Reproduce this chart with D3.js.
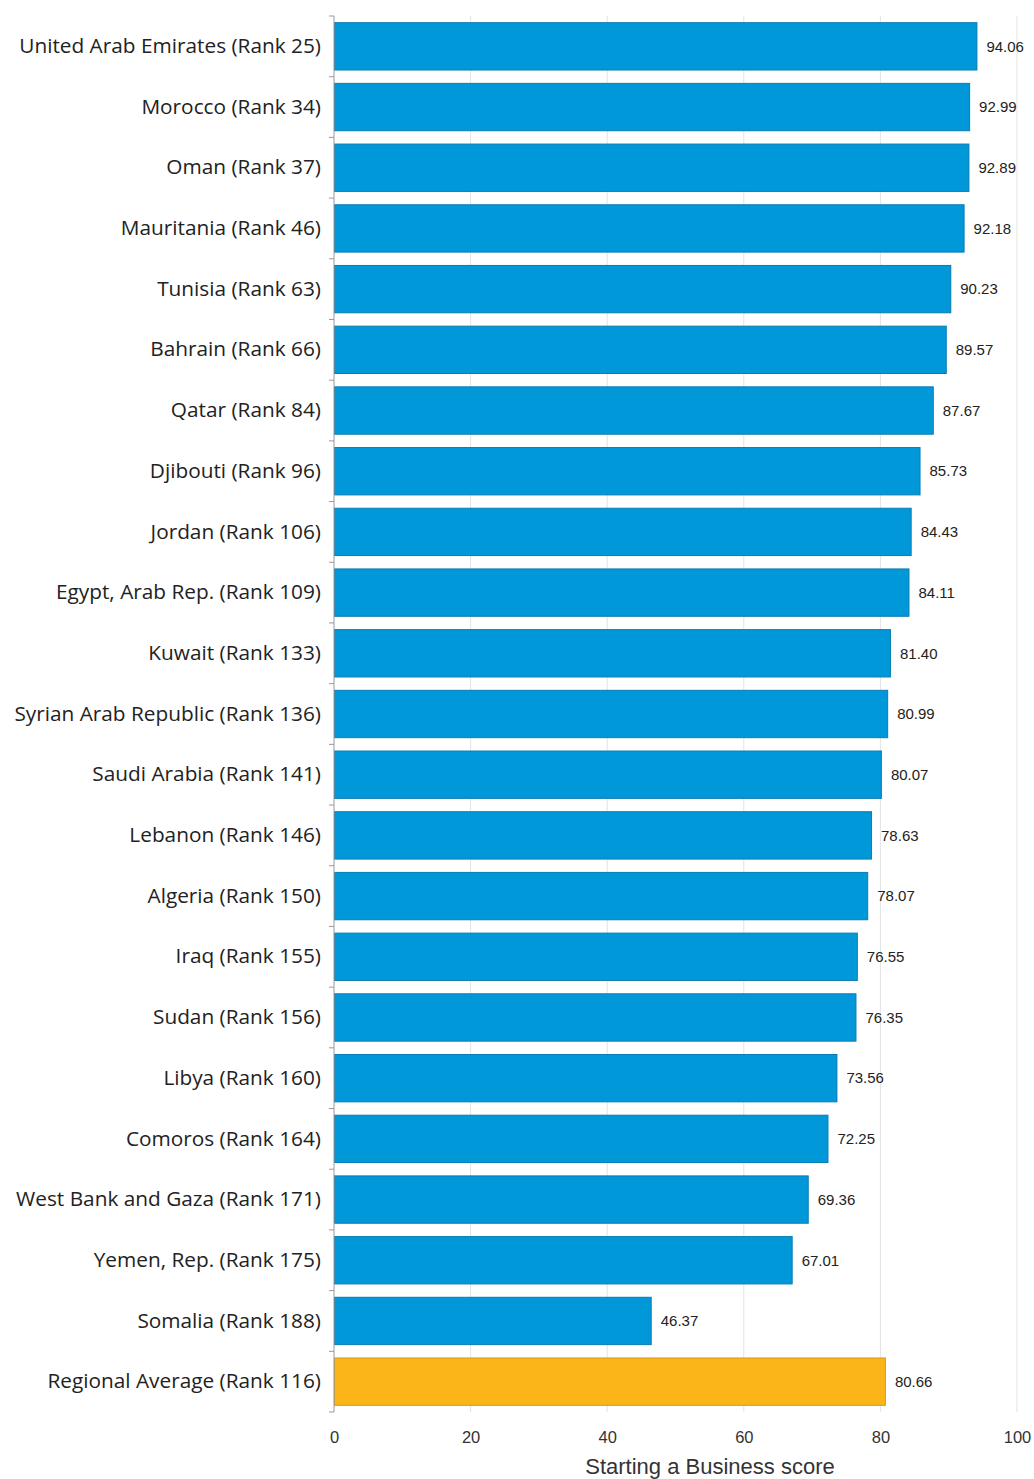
<!DOCTYPE html>
<html>
<head>
<meta charset="utf-8">
<script src="https://cdn.jsdelivr.net/npm/d3@7"></script>
<style>
  html, body { margin: 0; padding: 0; background: #fff; }
  svg { display: block; }
</style>
</head>
<body>
<svg id="chart" width="1034" height="1479"></svg>
<script>
// Starting a Business scores by economy, with the regional average last
const categories = [
  "United Arab Emirates (Rank 25)",
  "Morocco (Rank 34)",
  "Oman (Rank 37)",
  "Mauritania (Rank 46)",
  "Tunisia (Rank 63)",
  "Bahrain (Rank 66)",
  "Qatar (Rank 84)",
  "Djibouti (Rank 96)",
  "Jordan (Rank 106)",
  "Egypt, Arab Rep. (Rank 109)",
  "Kuwait (Rank 133)",
  "Syrian Arab Republic (Rank 136)",
  "Saudi Arabia (Rank 141)",
  "Lebanon (Rank 146)",
  "Algeria (Rank 150)",
  "Iraq (Rank 155)",
  "Sudan (Rank 156)",
  "Libya (Rank 160)",
  "Comoros (Rank 164)",
  "West Bank and Gaza (Rank 171)",
  "Yemen, Rep. (Rank 175)",
  "Somalia (Rank 188)",
  "Regional Average (Rank 116)"
];
const scores = [
  94.06, 92.99, 92.89, 92.18, 90.23, 89.57, 87.67, 85.73, 84.43, 84.11,
  81.40, 80.99, 80.07, 78.63, 78.07, 76.55, 76.35, 73.56, 72.25, 69.36,
  67.01, 46.37, 80.66
];
const xTicks = [0, 20, 40, 60, 80, 100];
const axisTitle = "Starting a Business score";

const svg = d3.select("#chart");
const margin = { top: 16, left: 334, right: 17, bottom: 67 };
const W = 1034, H = 1479;

const x = d3.scaleLinear().domain([0, 100]).range([margin.left, W - margin.right]);
const y = d3.scaleBand().domain(categories).range([margin.top, H - margin.bottom]).paddingInner(0.22).paddingOuter(0.11);

const rows = categories.map((c, i) => ({ name: c, value: scores[i], avg: i === categories.length - 1 }));

// vertical gridlines
svg.append("g")
  .selectAll("line")
  .data(xTicks.filter(t => t > 0))
  .join("line")
  .attr("x1", d => x(d)).attr("x2", d => x(d))
  .attr("y1", margin.top).attr("y2", H - margin.bottom)
  .attr("stroke", "#e3e3e3").attr("stroke-width", 1);

// bars
svg.append("g")
  .selectAll("rect")
  .data(rows)
  .join("rect")
  .attr("x", x(0) + 0.5)
  .attr("y", d => y(d.name))
  .attr("width", d => x(d.value) - x(0))
  .attr("height", y.bandwidth())
  .attr("fill", d => d.avg ? "#fbb519" : "#0098d9")
  .attr("stroke", d => d.avg ? "#d39a1e" : "#0a7cb3")
  .attr("stroke-width", 1);

// value labels
svg.append("g")
  .selectAll("text")
  .data(rows)
  .join("text")
  .attr("x", d => x(d.value) + 10)
  .attr("y", d => y(d.name) + y.bandwidth() / 2)
  .attr("dy", "0.35em")
  .attr("font-family", "'Liberation Sans', Arial, sans-serif")
  .attr("font-size", 15)
  .attr("fill", "#222")
  .text(d => d.value.toFixed(2));

// category axis
const yAxis = d3.axisLeft(y).tickSize(0).tickPadding(13);
const gy = svg.append("g").attr("transform", `translate(${margin.left},0)`).call(yAxis);
gy.select(".domain").attr("stroke", "#999").attr("d", `M0,${margin.top}V${H - margin.bottom}`);
gy.selectAll("text")
  .attr("font-family", "'Open Sans', sans-serif")
  .attr("font-size", 20.8)
  .attr("fill", "#222");

// category separator ticks
svg.append("g")
  .selectAll("line")
  .data([margin.top, ...categories.slice(1).map(c => y(c) - y.step() * y.paddingInner() / 2), H - margin.bottom])
  .join("line")
  .attr("x1", margin.left - 5).attr("x2", margin.left)
  .attr("y1", d => d).attr("y2", d => d)
  .attr("stroke", "#999").attr("stroke-width", 1);

// value axis labels
const xAxis = d3.axisBottom(x).tickValues(xTicks).tickSize(0).tickPadding(19).tickFormat(d3.format("d"));
const gx = svg.append("g").attr("transform", `translate(0,${H - margin.bottom})`).call(xAxis);
gx.select(".domain").remove();
gx.selectAll("text")
  .attr("font-family", "'Liberation Sans', Arial, sans-serif")
  .attr("font-size", 16.5)
  .attr("fill", "#333");

svg.append("text")
  .attr("x", 710)
  .attr("y", 1474)
  .attr("text-anchor", "middle")
  .attr("font-family", "'Liberation Sans', Arial, sans-serif")
  .attr("font-size", 22)
  .attr("fill", "#333")
  .text(axisTitle);
</script>
</body>
</html>
